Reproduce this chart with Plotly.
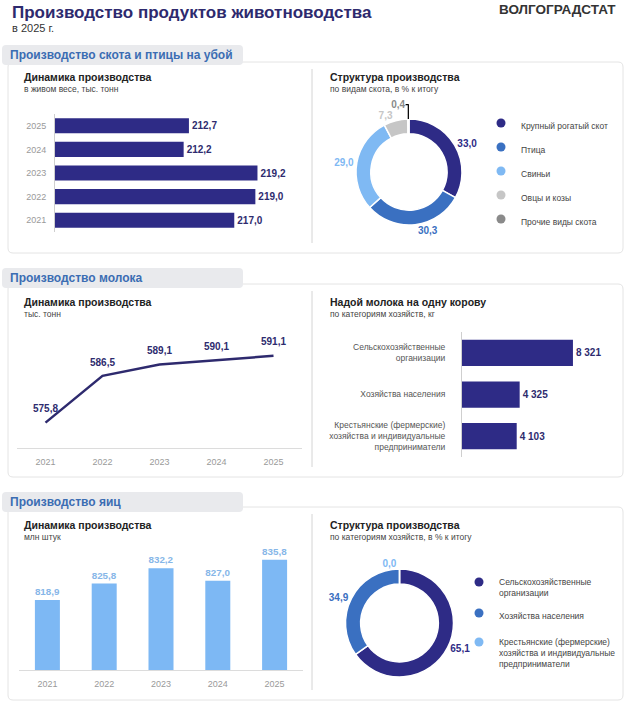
import plotly.graph_objects as go

W, H = 629, 705


def fx(p):
    return p / W


def fy(p):
    return 1 - p / H


# ---------------- data ----------------
slaughter_years = ["2021", "2022", "2023", "2024", "2025"]
slaughter_values = [217.0, 219.0, 219.2, 212.2, 212.7]

livestock_types = ["Крупный рогатый скот", "Птица", "Свиньи", "Овцы и козы", "Прочие виды скота"]
livestock_shares = [33.0, 30.3, 29.0, 7.3, 0.4]

milk_years = ["2021", "2022", "2023", "2024", "2025"]
milk_values = [575.8, 586.5, 589.1, 590.1, 591.1]

farm_types = ["Сельскохозяйственные<br>организации",
              "Хозяйства населения",
              "Крестьянские (фермерские)<br>хозяйства и индивидуальные<br>предприниматели"]
milk_yield = [8321, 4325, 4103]

egg_years = ["2021", "2022", "2023", "2024", "2025"]
egg_values = [818.9, 825.8, 832.2, 827.0, 835.8]
egg_shares = [65.1, 34.9, 0.0]

# ---------------- styles ----------------
NAVY = "#2e2b86"
BLUE = "#3a70c1"
LIGHT = "#7fb9f3"
LGRAY = "#c6c6c6"
DGRAY = "#8a8a8a"
LABEL_NAVY = "#2e2b6e"
EGG = "#7db8f4"
EGG_LABEL = "#86b6e8"
FONT = "Liberation Sans, Arial, sans-serif"

livestock_colors = [NAVY, BLUE, LIGHT, LGRAY, DGRAY]
egg_colors = [NAVY, BLUE, LIGHT]

fig = go.Figure()

# Panel 1: horizontal bars
fig.add_trace(go.Bar(
    x=slaughter_values, y=slaughter_years, orientation="h",
    marker=dict(color=NAVY, line=dict(width=0)),
    texttemplate="%{x:.1f}", textposition="outside", cliponaxis=False,
    textfont=dict(size=10, color=LABEL_NAVY, family=FONT, weight="bold"),
    xaxis="x", yaxis="y", showlegend=False, hoverinfo="skip"))

# Panel 2: donut
fig.add_trace(go.Pie(
    values=livestock_shares, labels=livestock_types, sort=False, direction="clockwise",
    rotation=0, hole=0.72, marker=dict(colors=livestock_colors, line=dict(color="white", width=1.5)),
    texttemplate="%{value:.1f}", textposition="outside",
    outsidetextfont=dict(size=10, color=livestock_colors, family=FONT, weight="bold"),
    domain=dict(x=[fx(356), fx(462)], y=[fy(225), fy(119)]),
    showlegend=False, hoverinfo="skip"))

# Panel 3: line
fig.add_trace(go.Scatter(
    x=milk_years, y=milk_values, mode="lines+markers+text",
    line=dict(color="#2e2a6e", width=2.5),
    marker=dict(size=11, color="rgba(0,0,0,0)"),
    texttemplate="%{y:.1f}", textposition="top center", cliponaxis=False,
    textfont=dict(size=10, color=LABEL_NAVY, family=FONT, weight="bold"),
    xaxis="x2", yaxis="y2", showlegend=False, hoverinfo="skip"))

# Panel 4: milk yield bars
fig.add_trace(go.Bar(
    x=milk_yield, y=farm_types, orientation="h", width=0.63,
    marker=dict(color=NAVY, line=dict(width=0)),
    texttemplate="%{x:,.0f}", textposition="outside", cliponaxis=False,
    textfont=dict(size=10, color=LABEL_NAVY, family=FONT, weight="bold"),
    xaxis="x3", yaxis="y3", showlegend=False, hoverinfo="skip"))

# Panel 5: eggs bars
fig.add_trace(go.Bar(
    x=egg_years, y=egg_values, width=0.44,
    marker=dict(color=EGG, line=dict(width=0)),
    texttemplate="%{y:.1f}", textposition="outside", cliponaxis=False,
    textfont=dict(size=10, color=EGG_LABEL, family=FONT, weight="bold"),
    xaxis="x4", yaxis="y4", showlegend=False, hoverinfo="skip"))

# Panel 6: donut
fig.add_trace(go.Pie(
    values=egg_shares, labels=farm_types, sort=False, direction="clockwise",
    rotation=0, hole=0.72, marker=dict(colors=egg_colors, line=dict(color="white", width=1.5)),
    texttemplate="%{value:.1f}", textposition="outside",
    outsidetextfont=dict(size=10, color=egg_colors, family=FONT, weight="bold"),
    domain=dict(x=[fx(345.5), fx(453.5)], y=[fy(677), fy(569)]),
    showlegend=False, hoverinfo="skip"))

# Legend entries (circle markers)
for name, col in zip(livestock_types, livestock_colors):
    fig.add_trace(go.Scatter(x=[None], y=[None], mode="markers", name=name,
                             marker=dict(size=9, color=col, symbol="circle"),
                             legend="legend", legendgroup="a" + name,
                             xaxis="x", yaxis="y", hoverinfo="skip"))
egg_legends = ["legend2", "legend3", "legend4"]
for name, col, lg in zip(farm_types, egg_colors, egg_legends):
    fig.add_trace(go.Scatter(x=[None], y=[None], mode="markers", name=name,
                             marker=dict(size=9, color=col, symbol="circle"),
                             legend=lg, xaxis="x", yaxis="y", hoverinfo="skip"))


# ---------------- shapes ----------------
def rrect(x0, y0, x1, y1, r, fill, line_color=None, width=0):
    X, Y = fx, fy
    path = (f"M {X(x0 + r)},{Y(y0)} L {X(x1 - r)},{Y(y0)} Q {X(x1)},{Y(y0)} {X(x1)},{Y(y0 + r)} "
            f"L {X(x1)},{Y(y1 - r)} Q {X(x1)},{Y(y1)} {X(x1 - r)},{Y(y1)} "
            f"L {X(x0 + r)},{Y(y1)} Q {X(x0)},{Y(y1)} {X(x0)},{Y(y1 - r)} "
            f"L {X(x0)},{Y(y0 + r)} Q {X(x0)},{Y(y0)} {X(x0 + r)},{Y(y0)} Z")
    return dict(type="path", path=path, xref="paper", yref="paper", fillcolor=fill,
                line=dict(color=line_color or fill, width=width), layer="below")


shapes = []
sections = [  # header top, card top, card bottom
    (45, 62, 253),
    (268, 284, 477),
    (492, 507, 700),
]
for ht, ct, cb in sections:
    shapes.append(rrect(8, ct, 623, cb, 5, "white", "#e4e4e4", 1))
    shapes.append(rrect(2, ht, 243, ht + 20, 4, "#e9eaed"))
    shapes.append(dict(type="line", xref="paper", yref="paper", x0=fx(312), x1=fx(312),
                       y0=fy(ct + 7), y1=fy(cb - 10), line=dict(color="#d4d4d4", width=1),
                       layer="below"))

# ---------------- annotations ----------------
ann = []


def text(x, y, s, size, color, bold=False, anchor="left"):
    ann.append(dict(x=fx(x), y=fy(y), xref="paper", yref="paper", text=s, showarrow=False,
                    xanchor=anchor, yanchor="middle",
                    font=dict(size=size, color=color, family=FONT, weight="bold" if bold else "normal")))


text(10, 12, "Производство продуктов животноводства", 17, "#2e2a6e", True)
text(10, 28, "в 2025 г.", 11, "#333333")
text(618, 9, "ВОЛГОГРАДСТАТ", 13.5, "#333333", True, "right")

headers = ["Производство скота и птицы на убой", "Производство молока", "Производство яиц"]
for (ht, ct, cb), h in zip(sections, headers):
    text(8, ht + 10, h, 12, "#3b6db3", True)

panels = [
    (22, 77, "Динамика производства", "в живом весе, тыс. тонн"),
    (328, 77, "Структура производства", "по видам скота, в % к итогу"),
    (22, 302, "Динамика производства", "тыс. тонн"),
    (328, 302, "Надой молока на одну корову", "по категориям хозяйств, кг"),
    (22, 525, "Динамика производства", "млн штук"),
    (328, 525, "Структура производства", "по категориям хозяйств, в % к итогу"),
]
for x, y, t, s in panels:
    text(x, y, t, 10.5, "#222222", True)
    text(x, y + 12, s, 8.5, "#444444")

hidden = dict(showgrid=False, zeroline=False, showticklabels=False, showline=False, ticks="")
legfont = dict(size=8.5, color="#444444", family=FONT)


def leg(x, y, gap=5):
    return dict(x=fx(x), y=fy(y), xanchor="left", yanchor="top", tracegroupgap=gap,
                font=legfont, bgcolor="rgba(0,0,0,0)", valign="top")


fig.update_layout(
    width=W, height=H, margin=dict(l=0, r=0, t=0, b=0),
    paper_bgcolor="white", plot_bgcolor="rgba(0,0,0,0)",
    separators=", ", font=dict(family=FONT, color="#444444"),
    shapes=shapes, annotations=ann, bargap=0.36,
    xaxis=dict(domain=[fx(55), fx(287)], range=[200, 222], anchor="y", **hidden),
    yaxis=dict(domain=[fy(232), fy(114)], type="category", anchor="x", showgrid=False,
               zeroline=False, showline=True, linecolor="#cfcfcf", linewidth=1, ticks="",
               tickfont=dict(size=9, color="#9a9a9a"), ticklabelstandoff=6),
    xaxis2=dict(domain=[fx(17), fx(302)], type="category", range=[-0.5, 4.5], anchor="y2",
                showgrid=False, zeroline=False, showline=True, linecolor="#dcdcdc", linewidth=1,
                ticks="", tickfont=dict(size=9, color="#9a9a9a"), ticklabelstandoff=5),
    yaxis2=dict(domain=[fy(448), fy(330)], range=[570, 597], anchor="x2", **hidden),
    xaxis3=dict(domain=[fx(462), fx(582)], range=[0, 9000], anchor="y3", **hidden),
    yaxis3=dict(domain=[fy(457), fy(332)], type="category", anchor="x3", autorange="reversed",
                showgrid=False, zeroline=False, showline=True, linecolor="#cfcfcf", linewidth=1,
                ticks="", tickfont=dict(size=8.5, color="#555555"), ticklabelstandoff=14),
    xaxis4=dict(domain=[fx(19), fx(303)], type="category", anchor="y4", showgrid=False,
                zeroline=False, showline=True, linecolor="#dcdcdc", linewidth=1, ticks="",
                tickfont=dict(size=9, color="#9a9a9a"), ticklabelstandoff=5),
    yaxis4=dict(domain=[fy(670), fy(545)], range=[789.4, 842], anchor="x4", **hidden),
    legend=leg(481, 111, 5),
    legend2=leg(459, 570),
    legend3=leg(459, 601),
    legend4=leg(459, 630),
)

fig.write_html("out.html")
